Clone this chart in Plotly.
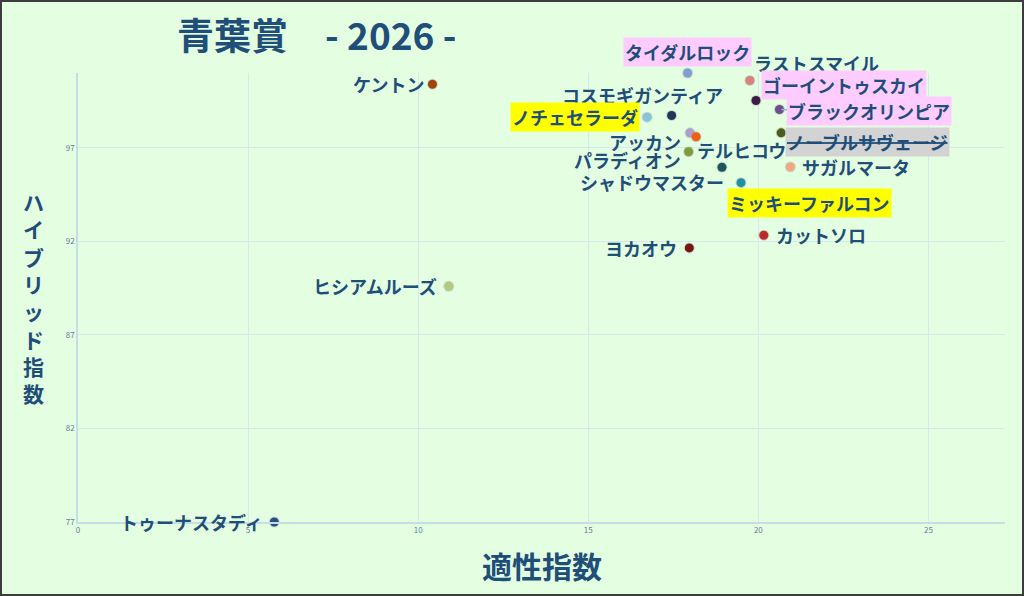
import plotly.graph_objects as go

# ---- data ----
names = ["ケントン", "タイダルロック", "ラストスマイル", "ゴーイントゥスカイ", "ブラックオリンピア",
         "コスモギガンティア", "ノチェセラーダ", "アッカン", "テルヒコウ", "ノーブルサヴェージ",
         "パラディオン", "サガルマータ", "シャドウマスター", "ミッキーファルコン", "カットソロ",
         "ヨカオウ", "ヒシアムルーズ", "トゥーナスタディ"]
aptitude = [10.42, 17.92, 19.75, 19.93, 20.62,
            17.45, 16.73, 17.99, 18.17, 20.67,
            17.95, 20.94, 18.93, 19.49, 20.16,
            17.97, 10.90, 5.77]
hybrid = [100.4, 101.0, 100.6, 99.53, 99.05,
          98.73, 98.64, 97.80, 97.59, 97.80,
          96.79, 95.98, 95.96, 95.14, 92.33,
          91.65, 89.60, 77.0]
colors = ["#A5410C", "#7F9FD3", "#D98080", "#3C1B47", "#6E4C8E",
          "#1E3658", "#86C4DE", "#B09CCC", "#EE6010", "#4C5C1C",
          "#7E9C3A", "#F4A77E", "#1A5560", "#2090A6", "#C02A2A",
          "#7A1414", "#B4C87E", "#2D4C8A"]
x_ticks = [0, 5, 10, 15, 20, 25]
y_ticks = [77, 82, 87, 92, 97]

# ---- label styles (anchor, pixel offsets, background, strike) ----
label_style = {
    "ケントン": dict(xanchor="right", xshift=-6, yshift=0),
    "タイダルロック": dict(xanchor="center", xshift=0, yshift=21, bg="#FFCCFF"),
    "ラストスマイル": dict(xanchor="left", xshift=2, yshift=17),
    "ゴーイントゥスカイ": dict(xanchor="left", xshift=5, yshift=16, bg="#FFCCFF"),
    "ブラックオリンピア": dict(xanchor="left", xshift=7, yshift=-2, bg="#FFCCFF", arrow=True),
    "コスモギガンティア": dict(xanchor="center", xshift=-29, yshift=20),
    "ノチェセラーダ": dict(xanchor="right", xshift=-7, yshift=0, bg="#FFFF00"),
    "アッカン": dict(xanchor="right", xshift=-7, yshift=-9),
    "テルヒコウ": dict(xanchor="left", xshift=-1, yshift=-13),
    "ノーブルサヴェージ": dict(xanchor="left", xshift=4, yshift=-9, bg="#D3D3D3", strike=True),
    "パラディオン": dict(xanchor="right", xshift=-6, yshift=-8),
    "サガルマータ": dict(xanchor="left", xshift=10, yshift=0),
    "シャドウマスター": dict(xanchor="right", xshift=4, yshift=-15),
    "ミッキーファルコン": dict(xanchor="left", xshift=-14, yshift=-20, bg="#FFFF00"),
    "カットソロ": dict(xanchor="left", xshift=10, yshift=0),
    "ヨカオウ": dict(xanchor="right", xshift=-10, yshift=0),
    "ヒシアムルーズ": dict(xanchor="right", xshift=-10, yshift=0),
    "トゥーナスタディ": dict(xanchor="right", xshift=-9, yshift=0),
}

FONT = "Noto Sans CJK JP"
NAVY = "#1F4E79"
BG = "#E4FEE2"

fig = go.Figure()
# soft shadow under dots
fig.add_trace(go.Scatter(
    x=aptitude, y=hybrid, mode="markers",
    marker=dict(size=11, color="rgba(60,60,60,0.18)", line=dict(width=0)),
    hoverinfo="skip", cliponaxis=False, showlegend=False))
fig.add_trace(go.Scatter(
    x=aptitude, y=hybrid, mode="markers",
    marker=dict(size=9, color=colors, line=dict(width=0)),
    text=names, hovertemplate="%{text}<br>%{x}, %{y}<extra></extra>",
    cliponaxis=False, showlegend=False))

annotations = []
for n, xv, yv in zip(names, aptitude, hybrid):
    st = label_style[n]
    txt = f"<b>{n}</b>"
    if st.get("strike"):
        txt = f"<s>{txt}</s>"
    a = dict(x=xv, y=yv, xref="x", yref="y", text=txt,
             font=dict(family=FONT, size=18, color=NAVY),
             xanchor=st["xanchor"], yanchor="middle",
             xshift=st["xshift"], yshift=st["yshift"],
             showarrow=False, borderpad=1)
    if "bg" in st:
        a["bgcolor"] = st["bg"]
    if st.get("arrow"):
        a.update(showarrow=True, arrowhead=0, arrowwidth=1.5, arrowcolor="#8CB4D8",
                 ax=90, ay=2, xanchor="center", xshift=0, yshift=0, standoff=2)
    annotations.append(a)

# title
annotations.append(dict(text="<b>青葉賞　- 2026 -</b>", xref="paper", yref="paper",
                        x=0.105, y=1.087, xanchor="left", yanchor="middle", showarrow=False,
                        font=dict(family=FONT, size=37, color=NAVY)))
# x axis title
annotations.append(dict(text="<b>適性指数</b>", xref="paper", yref="paper",
                        x=0.5, y=-0.096, xanchor="center", yanchor="middle", showarrow=False,
                        font=dict(family=FONT, size=30, color=NAVY)))
# vertical y axis title, one character per line
ytitle = "ハイブリッド指数"
annotations.append(dict(text="<b>" + "<br>".join(ytitle) + "</b>", xref="paper", yref="paper",
                        x=(33 - 78) / 927, y=(522 - 297) / 449,
                        xanchor="center", yanchor="middle", showarrow=False,
                        font=dict(family=FONT, size=21, color=NAVY)))

fig.update_layout(
    width=1024, height=596,
    margin=dict(l=78, r=19, t=73, b=74),
    paper_bgcolor=BG, plot_bgcolor=BG,
    annotations=annotations,
    shapes=[dict(type="rect", xref="paper", yref="paper",
                 x0=(1 - 78) / 927, x1=(1023 - 78) / 927,
                 y0=(522 - 595) / 449, y1=(522 - 1) / 449,
                 line=dict(color="#3C3C3C", width=2), fillcolor="rgba(0,0,0,0)", layer="above")],
    xaxis=dict(range=[0, 27.25], tickvals=x_ticks, showgrid=True, gridcolor="#D4E8EE", gridwidth=1,
               zeroline=False, showline=True, linecolor="#C4DEE6", linewidth=1.5,
               tickfont=dict(family=FONT, size=8, color="#5E7E98"), ticks="", fixedrange=True),
    yaxis=dict(range=[77, 101], tickvals=y_ticks, showgrid=True, gridcolor="#D4E8EE", gridwidth=1,
               zeroline=False, showline=True, linecolor="#C4DEE6", linewidth=1.5,
               tickfont=dict(family=FONT, size=8, color="#5E7E98"), ticks="", fixedrange=True),
)

fig.write_html("out.html", config={"displayModeBar": False},
               post_script="document.body.style.margin='0';document.body.style.overflow='hidden';")
